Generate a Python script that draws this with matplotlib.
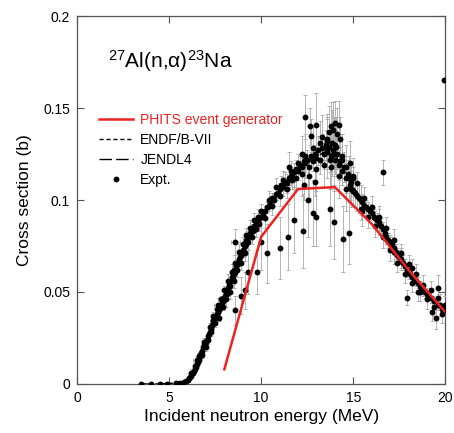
#!/usr/bin/env python3
"""27Al(n,alpha)23Na cross section: PHITS event generator vs evaluations and data."""
import matplotlib
matplotlib.use("Agg")
import matplotlib.pyplot as plt
from matplotlib.lines import Line2D

plt.rcParams["font.family"] = ["Liberation Sans", "DejaVu Sans"]
plt.rcParams["mathtext.fontset"] = "custom"
plt.rcParams["mathtext.rm"] = "Liberation Sans"
plt.rcParams["mathtext.it"] = "Liberation Sans:italic"

# PHITS event generator
phits_e = [8, 10, 12, 14, 16, 18, 20]
phits_xs = [0.008, 0.080, 0.106, 0.107, 0.087, 0.062, 0.039]

# evaluated curves
eval_e = [3.5, 4.0, 4.5, 5.0, 5.5, 6.0, 6.25, 6.5, 6.75, 7.0, 7.25, 7.5, 7.75, 8.0,
          8.25, 8.5, 8.75, 9.0, 9.25, 9.5, 9.75, 10.0, 10.5, 11.0, 11.5, 12.0, 12.5,
          13.0, 13.5, 14.0, 14.5, 15.0, 15.5, 16.0, 16.5, 17.0, 17.5, 18.0, 18.5,
          19.0, 19.5, 20.0]
endf_xs = [0.0, 0.0, 0.0001, 0.0003, 0.0006, 0.002, 0.005, 0.010, 0.016, 0.022,
           0.029, 0.035, 0.041, 0.047, 0.053, 0.060, 0.066, 0.072, 0.077, 0.082,
           0.086, 0.089, 0.097, 0.104, 0.110, 0.116, 0.120, 0.123, 0.127, 0.125,
           0.116, 0.106, 0.099, 0.093, 0.086, 0.077, 0.069, 0.061, 0.055, 0.049,
           0.044, 0.038]
jendl_xs = [0.0, 0.0, 0.0001, 0.0003, 0.0007, 0.002, 0.005, 0.011, 0.017, 0.023,
            0.030, 0.036, 0.042, 0.048, 0.054, 0.061, 0.067, 0.073, 0.078, 0.083,
            0.087, 0.090, 0.098, 0.105, 0.111, 0.117, 0.121, 0.124, 0.126, 0.124,
            0.117, 0.107, 0.100, 0.093, 0.086, 0.078, 0.070, 0.062, 0.056, 0.050,
            0.044, 0.039]

# experimental data, main band (small errors)
band_e = [3.5, 4.0, 4.5, 4.9, 5.4, 5.6, 5.8, 5.9, 6.0, 6.1, 6.15, 6.2, 6.3, 6.35,
          6.4, 6.45, 6.5, 6.55, 6.6, 6.65, 6.7, 6.75, 6.8, 6.85, 6.9, 6.95, 7.0,
          7.05, 7.1, 7.15, 7.2, 7.25, 7.3, 7.35, 7.4, 7.45, 7.5, 7.55, 7.6, 7.65,
          7.7, 7.75, 7.8, 7.85, 7.9, 7.95, 8.0, 8.05, 8.1, 8.15, 8.2, 8.25, 8.3,
          8.35, 8.4, 8.45, 8.5, 8.55, 8.6, 8.65, 8.7, 8.75, 8.8, 8.85, 8.9, 8.95,
          9.0, 9.05, 9.1, 9.15, 9.2, 9.25, 9.3, 9.35, 9.4, 9.5, 9.55, 9.6, 9.7,
          9.8, 9.9, 10.0, 10.1, 10.2, 10.3, 10.4, 10.5, 10.6, 10.7, 10.8, 10.9,
          11.0, 11.1, 11.2, 11.3, 11.4, 11.5, 11.6, 11.7, 11.8, 11.9, 12.0, 12.1,
          12.2, 12.3, 12.4, 12.5, 12.6, 12.7, 12.8, 12.9, 13.0, 13.1, 13.2, 13.3,
          13.4, 13.5, 13.6, 13.7, 13.8, 13.9, 14.0, 14.1, 14.2, 14.3, 14.4, 14.5,
          14.6, 14.7, 14.8, 14.9, 15.0, 15.1, 15.2, 15.3, 15.4, 15.5, 15.6, 15.7,
          15.8, 15.9, 16.0, 16.1, 16.2, 16.3, 16.4, 16.5, 16.6, 16.7, 16.8, 16.9,
          17.0, 17.1, 17.2, 17.3, 17.4, 17.5, 17.6, 17.7, 17.8, 17.9, 18.0, 18.1,
          18.2, 18.3, 18.4, 18.5, 18.6, 18.7, 18.8, 18.9, 19.0, 19.2, 19.4, 19.6,
          19.8, 19.9]
band_xs = [0.0, 0.0, 0.0001, 0.0002, 0.0005, 0.0008, 0.0012, 0.0018, 0.0022, 0.003,
           0.004, 0.0045, 0.006, 0.007, 0.008, 0.009, 0.011, 0.012, 0.013, 0.014,
           0.016, 0.017, 0.018, 0.020, 0.021, 0.022, 0.023, 0.024, 0.026, 0.027,
           0.028, 0.030, 0.031, 0.032, 0.034, 0.035, 0.036, 0.037, 0.038, 0.039,
           0.040, 0.042, 0.043, 0.044, 0.045, 0.046, 0.047, 0.048, 0.050, 0.049,
           0.052, 0.054, 0.053, 0.056, 0.058, 0.057, 0.060, 0.062, 0.061, 0.064,
           0.066, 0.065, 0.068, 0.069, 0.070, 0.072, 0.073, 0.072, 0.075, 0.076,
           0.078, 0.077, 0.080, 0.081, 0.082, 0.084, 0.083, 0.086, 0.087, 0.088,
           0.090, 0.091, 0.092, 0.094, 0.096, 0.097, 0.099, 0.101, 0.100, 0.103,
           0.104, 0.106, 0.108, 0.107, 0.110, 0.109, 0.112, 0.113, 0.111, 0.115,
           0.117, 0.116, 0.119, 0.118, 0.121, 0.120, 0.122, 0.118, 0.124, 0.121,
           0.125, 0.123, 0.127, 0.122, 0.128, 0.125, 0.130, 0.126, 0.129, 0.124,
           0.127, 0.122, 0.125, 0.119, 0.121, 0.116, 0.118, 0.112, 0.114, 0.108,
           0.110, 0.105, 0.104, 0.102, 0.101, 0.100, 0.099, 0.097, 0.096, 0.095,
           0.094, 0.093, 0.091, 0.090, 0.089, 0.087, 0.086, 0.084, 0.082, 0.080,
           0.078, 0.077, 0.076, 0.074, 0.072, 0.070, 0.069, 0.067, 0.066, 0.064,
           0.062, 0.061, 0.060, 0.058, 0.057, 0.056, 0.055, 0.053, 0.052, 0.051,
           0.050, 0.049, 0.047, 0.045, 0.043, 0.041, 0.040]
band_err = [0.0005] * 12 + [0.001] * 20 + [0.002] * 30 + [0.003] * 30 + \
           [0.005] * 20 + [0.008] * 24 + [0.004] * 26 + [0.003] * 15

# second layer of data around the band
band2_e = [6.2, 6.4, 6.6, 6.8, 6.9, 7.0, 7.1, 7.2, 7.3, 7.4, 7.5, 7.6, 7.7, 7.8,
           7.9, 8.0, 8.1, 8.2, 8.3, 8.4, 8.5, 8.6, 8.7, 8.8, 8.9, 9.0, 9.1, 9.2,
           9.3, 9.4, 9.5, 9.6, 9.7, 9.8, 9.9, 10.0, 10.2, 10.4, 10.6, 10.8, 11.0,
           11.2, 11.4, 11.6, 11.8, 12.0, 12.2, 12.4, 12.6, 12.8, 13.0, 13.2, 13.4,
           13.6, 13.8, 14.0, 14.2, 14.4, 14.6, 14.8, 15.0, 15.2, 15.4, 15.6, 15.8,
           16.0, 16.2, 16.4, 16.6, 16.8, 17.0, 17.2, 17.4, 17.6, 17.8, 18.0, 18.2,
           18.4, 18.6, 18.8, 19.0, 19.2, 19.4, 19.6, 19.8, 20.0]
band2_xs = [0.006, 0.010, 0.015, 0.016, 0.023, 0.020, 0.024, 0.031, 0.028, 0.037,
            0.033, 0.041, 0.036, 0.046, 0.042, 0.051, 0.046, 0.056, 0.050, 0.061,
            0.056, 0.066, 0.062, 0.072, 0.066, 0.076, 0.071, 0.081, 0.077, 0.085,
            0.080, 0.089, 0.084, 0.091, 0.087, 0.094, 0.090, 0.100, 0.097, 0.107,
            0.102, 0.111, 0.106, 0.116, 0.112, 0.120, 0.114, 0.124, 0.113, 0.128,
            0.117, 0.131, 0.119, 0.133, 0.118, 0.130, 0.113, 0.124, 0.106, 0.120,
            0.112, 0.109, 0.095, 0.101, 0.091, 0.096, 0.086, 0.091, 0.080, 0.085,
            0.073, 0.078, 0.066, 0.071, 0.060, 0.065, 0.055, 0.060, 0.050, 0.054,
            0.046, 0.051, 0.042, 0.047, 0.038, 0.043]
band2_err = [0.002] * 16 + [0.004] * 20 + [0.005] * 10 + [0.012] * 14 + \
            [0.006] * 12 + [0.005] * 14

# scattered data with large errors
scat_e = [12.4, 12.65, 12.7, 13.0, 13.3, 13.55, 13.7, 13.8, 13.9, 14.0, 14.1,
          14.2, 14.3, 13.6, 13.85, 14.05, 13.95, 13.75, 14.4, 14.6, 14.75, 14.85,
          15.0, 12.2, 11.5, 11.9, 12.9, 12.3, 8.57, 8.9, 9.13, 9.31, 9.75, 10.0,
          10.34, 11.0, 11.48, 11.78, 12.28, 12.55, 12.79, 12.99, 13.75, 13.97,
          14.46, 14.76, 16.61, 17.92, 19.95, 19.5, 19.6, 19.3, 19.7, 18.5, 18.2,
          17.2, 16.4, 15.5, 17.6]
scat_xs = [0.145, 0.140, 0.135, 0.141, 0.134, 0.132, 0.137, 0.140, 0.138, 0.142,
           0.136, 0.141, 0.133, 0.128, 0.131, 0.129, 0.125, 0.122, 0.122, 0.118,
           0.112, 0.106, 0.113, 0.125, 0.118, 0.112, 0.110, 0.108, 0.040, 0.048,
           0.051, 0.061, 0.061, 0.077, 0.071, 0.074, 0.080, 0.089, 0.083, 0.100,
           0.093, 0.091, 0.095, 0.088, 0.079, 0.082, 0.115, 0.047, 0.165, 0.036,
           0.052, 0.039, 0.043, 0.050, 0.063, 0.072, 0.088, 0.094, 0.068]
scat_err = [0.012, 0.010, 0.009, 0.017, 0.012, 0.015, 0.014, 0.013, 0.015, 0.012,
            0.014, 0.013, 0.012, 0.016, 0.018, 0.016, 0.020, 0.016, 0.014, 0.012,
            0.012, 0.010, 0.010, 0.010, 0.008, 0.006, 0.008, 0.008, 0.008, 0.010,
            0.010, 0.012, 0.012, 0.015, 0.016, 0.017, 0.018, 0.018, 0.020, 0.020,
            0.018, 0.016, 0.020, 0.020, 0.018, 0.017, 0.007, 0.004, 0.0, 0.006,
            0.007, 0.005, 0.006, 0.005, 0.005, 0.007, 0.007, 0.008, 0.006]

# data with energy errors
xbar_e = [6.5, 7.68, 8.6, 7.4]
xbar_xs = [0.013, 0.043, 0.077, 0.035]
xbar_ex = [0.2, 0.25, 0.25, 0.15]
xbar_ey = [0.002, 0.004, 0.007, 0.003]

fig = plt.figure(figsize=(4.54, 4.33), dpi=100)
ax = fig.add_axes([0.1696, 0.1132, 0.8114, 0.8498])

err_kw = dict(fmt="o", color="black", ms=3.2, ecolor="#a8a8a8", elinewidth=0.6,
              capsize=1.6, capthick=0.6, zorder=3)
ax.errorbar(band_e, band_xs, yerr=band_err, **err_kw)
ax.errorbar(band2_e, band2_xs, yerr=band2_err, **err_kw)
ax.errorbar(scat_e, scat_xs, yerr=scat_err, **err_kw)
ax.errorbar(xbar_e, xbar_xs, xerr=xbar_ex, yerr=xbar_ey, **err_kw)

ax.plot(eval_e, endf_xs, color="black", lw=1.0, ls=(0, (3, 2)), zorder=4)
ax.plot(eval_e, jendl_xs, color="black", lw=1.0, ls=(0, (9, 3)), zorder=4)
ax.plot(phits_e, phits_xs, color="#ee2222", lw=1.8, zorder=5)

ax.set_xlim(0, 20)
ax.set_ylim(0, 0.2)
ax.set_xticks([0, 5, 10, 15, 20])
ax.set_xticklabels(["0", "5", "10", "15", "20"])
ax.set_yticks([0, 0.05, 0.1, 0.15, 0.2])
ax.set_yticklabels(["0", "0.05", "0.1", "0.15", "0.2"])
ax.tick_params(direction="in", top=True, right=True, length=5, width=0.8,
               labelsize=10, pad=5, color="#555555")
for sp in ax.spines.values():
    sp.set_linewidth(0.9)
    sp.set_color("#555555")

ax.set_xlabel("Incident neutron energy (MeV)", fontsize=12.5, labelpad=3)
ax.set_ylabel("Cross section (b)", fontsize=12.5, labelpad=8)

ax.text(1.7, 0.172, r"$^{27}$Al(n,α)$^{23}$Na", fontsize=15)

handles = [
    Line2D([], [], color="#ee2222", lw=1.8),
    Line2D([], [], color="black", lw=1.0, ls=(0, (3, 2))),
    Line2D([], [], color="black", lw=1.0, ls=(0, (9, 3))),
    Line2D([], [], color="black", marker="o", ms=3.2, ls="none"),
]
labels = ["PHITS event generator", "ENDF/B-VII", "JENDL4", "Expt."]
leg = ax.legend(handles, labels, loc="upper left", bbox_to_anchor=(0.04, 0.755),
                frameon=False, fontsize=10, handlelength=2.5, handletextpad=0.5,
                labelspacing=0.42, borderpad=0,
                labelcolor=["#ee2222", "black", "black", "black"])

fig.savefig("out.png", dpi=100)
